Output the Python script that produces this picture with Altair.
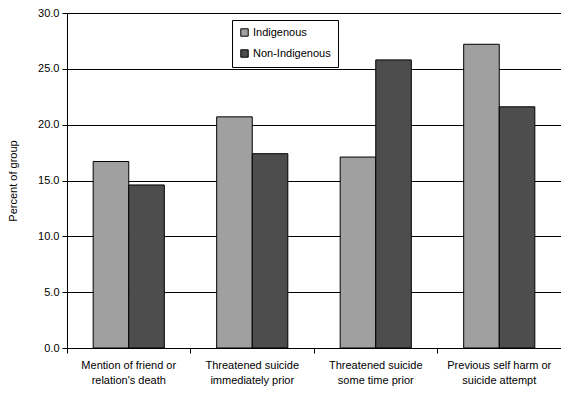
import altair as alt
import pandas as pd

categories = [
    "Mention of friend or|relation's death",
    "Threatened suicide|immediately prior",
    "Threatened suicide|some time prior",
    "Previous self harm or|suicide attempt",
]
series = ["Indigenous", "Non-Indigenous"]
indigenous = [16.7, 20.7, 17.1, 27.2]
non_indigenous = [14.6, 17.4, 25.8, 21.6]
colors = ["#A0A0A0", "#4D4D4D"]

rows = []
for c, a, b in zip(categories, indigenous, non_indigenous):
    rows.append({"cat": c, "group": series[0], "value": a})
    rows.append({"cat": c, "group": series[1], "value": b})
df = pd.DataFrame(rows)

font = "Liberation Sans"

chart = alt.Chart(df).mark_bar(stroke="black", strokeWidth=1).encode(
    x=alt.X(
        "cat:N",
        sort=categories,
        title=None,
        scale=alt.Scale(paddingInner=0.424, paddingOuter=0.212),
        axis=alt.Axis(
            labelExpr="split(datum.label, '|')",
            labelAngle=0,
            bandPosition=-0.368,
            labelOffset=0,
            labelAlign="center",
            labelFont=font,
            labelFontSize=11,
            labelColor="black",
            labelLineHeight=15,
            labelPadding=6,
            tickSize=5,
            tickColor="black",
            domainColor="black",
            grid=False,
        ),
    ),
    xOffset=alt.XOffset("group:N", sort=series),
    y=alt.Y(
        "value:Q",
        title="Percent of group",
        scale=alt.Scale(domain=[0, 30], nice=False),
        axis=alt.Axis(
            values=[0, 5, 10, 15, 20, 25, 30],
            format=".1f",
            labelFont=font,
            labelFontSize=11,
            labelColor="black",
            labelPadding=3,
            tickSize=5,
            tickColor="black",
            domainColor="black",
            gridColor="black",
            gridOpacity=1,
            titleFont=font,
            titleFontSize=11,
            titleFontWeight="normal",
            titleColor="black",
            titlePadding=19,
        ),
    ),
    color=alt.Color(
        "group:N",
        sort=series,
        scale=alt.Scale(domain=series, range=colors),
        legend=alt.Legend(
            title=None,
            orient="none",
            legendX=165,
            legendY=7,
            strokeColor="black",
            fillColor="white",
            padding=7,
            symbolType="square",
            symbolSize=55,
            symbolStrokeColor="black",
            symbolStrokeWidth=1,
            labelFont=font,
            labelFontSize=11,
            labelColor="black",
            labelOffset=3,
            rowPadding=8,
            cornerRadius=0,
        ),
    ),
).properties(
    width=494,
    height=335,
    padding={"left": 59, "top": 5, "right": 0, "bottom": 40},
    autosize=alt.AutoSizeParams(type="none"),
).configure_view(
    stroke=None
).configure(background="white")

chart.save("out.html", embed_options={"renderer": "svg", "actions": False})
